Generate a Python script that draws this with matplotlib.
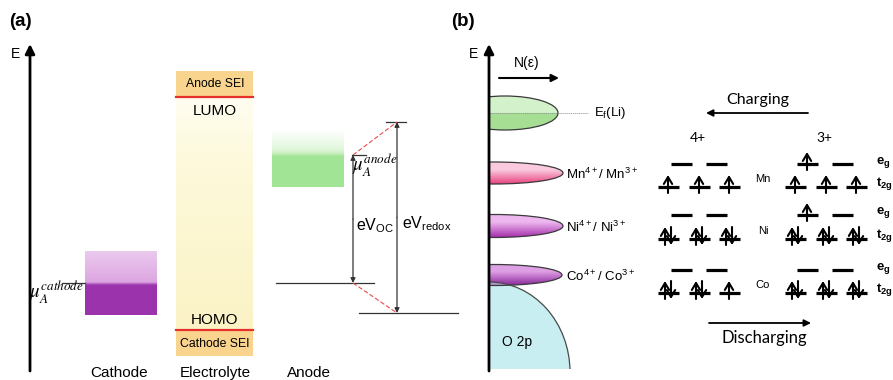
import numpy as np
import matplotlib.pyplot as plt
from matplotlib.patches import Rectangle, Ellipse
from matplotlib.colors import to_rgb

plt.rcParams['font.family'] = ['Liberation Sans', 'DejaVu Sans']
plt.rcParams['mathtext.fontset'] = 'custom'
plt.rcParams['mathtext.rm'] = 'Liberation Sans'
plt.rcParams['mathtext.it'] = 'Liberation Sans:italic'
plt.rcParams['mathtext.bf'] = 'Liberation Sans:bold'

CAL = ['Lato', 'DejaVu Sans']  # stand-in for Calibri

# ---- panel (a): energy levels (pixel rows, smaller value = higher energy)
cathode_levels = [251, 283, 315]      # band top, mu_A(cathode), band bottom
electrolyte_levels = [71, 97, 330, 356]  # SEI top, LUMO, HOMO, SEI bottom
anode_levels = [130, 155, 187]        # band top, mu_A(anode), band bottom
redox_levels = [122, 313]             # upper / lower redox level
column_names = ['Cathode', 'Electrolyte', 'Anode']

# ---- panel (b): density of states
dos_names = [r'E$_\mathrm{f}$(Li)', r'Mn$^{4+}$/ Mn$^{3+}$',
             r'Ni$^{4+}$/ Ni$^{3+}$', r'Co$^{4+}$/ Co$^{3+}$']
dos_centers = [113, 173, 226, 275]
dos_heights = [34, 22, 23, 21]
dos_right = [558, 563, 563, 562]
dos_top_colors = ['#d3f2cb', '#fbcadf', '#eeb6ee', '#dea0e5']
dos_bottom_colors = ['#a6df94', '#e8417d', '#a632ad', '#8c2a9c']

# ---- panel (b): d-electron occupancy (0 empty, 1 up, 2 paired)
ions = ['Mn', 'Ni', 'Co']
eg_4plus = [[0, 0], [0, 0], [0, 0]]
t2g_4plus = [[1, 1, 1], [2, 2, 2], [2, 2, 1]]
eg_3plus = [[1, 0], [1, 0], [0, 0]]
t2g_3plus = [[1, 1, 1], [2, 2, 2], [2, 2, 2]]
eg_rows = [164, 215, 270]
t2g_rows = [187, 239, 293]


def vgrad(ax, x0, x1, y0, y1, stops, clip=None, z=1):
    """vertical colour gradient between rows y0 (top) and y1 (bottom)"""
    t = np.linspace(0, 1, 200)
    fr = [s[0] for s in stops]
    cols = np.array([to_rgb(s[1]) for s in stops])
    img = np.stack([np.interp(t, fr, cols[:, k]) for k in range(3)], axis=1)[:, None, :]
    im = ax.imshow(img, extent=(x0, x1, y1, y0), origin='upper', aspect='auto',
                   interpolation='bilinear', zorder=z)
    if clip is not None:
        im.set_clip_path(clip)
    return im


def arrow(ax, x0, y0, x1, y1, style='-|>', lw=1.5, color='k', ms=12, z=5):
    ax.annotate('', xy=(x1, y1), xytext=(x0, y0),
                arrowprops=dict(arrowstyle=style, lw=lw, color=color, mutation_scale=ms,
                                shrinkA=0, shrinkB=0), zorder=z)


def spin(ax, x, y, up):
    st = '->,head_length=0.5,head_width=0.3'
    if up:
        arrow(ax, x, y + 6, x, y - 12, style=st, lw=1.5, ms=10)
    else:
        arrow(ax, x, y - 12, x, y + 6, style=st, lw=1.5, ms=10)


def orbital(ax, x, y, n):
    ax.plot([x - 10.5, x + 10.5], [y, y], color='k', lw=2.3, solid_capstyle='butt', zorder=4)
    if n == 1:
        spin(ax, x, y, True)
    elif n == 2:
        spin(ax, x - 3, y, True)
        spin(ax, x + 3, y, False)


fig = plt.figure(figsize=(8.93, 3.8), dpi=100)
ax = fig.add_axes([0, 0, 1, 1])
ax.axis('off')

# ================= panel (a)
ax.text(9, 22, '(a)', fontsize=13.5, fontweight='bold', va='center', ha='left')
arrow(ax, 30, 371, 30, 44, lw=2, ms=14)
ax.text(16, 54, 'E', fontsize=10, va='center', ha='center')

c_top, c_mu, c_bot = cathode_levels
vgrad(ax, 85, 157, c_top, c_bot,
      [(0, '#ebcaef'), ((c_mu - c_top - 1) / (c_bot - c_top), '#dca6e0'),
       ((c_mu - c_top + 2) / (c_bot - c_top), '#9a34ad'), (1, '#9a33ac')])
ax.plot([62, 85], [c_mu, c_mu], color='#333333', lw=0.9)
ax.text(84, c_mu + 9, r'$\mu_A^{cathode}$', math_fontfamily='stix', fontsize=13.5,
        ha='right', va='center')

sei_top, lumo, homo, sei_bot = electrolyte_levels
vgrad(ax, 176, 253, lumo, homo, [(0, '#fffdf0'), (0.3, '#fdf9da'), (1, '#fbf3c6')])
ax.add_patch(Rectangle((176, sei_top), 77, lumo - sei_top, color='#f9d48e', lw=0))
ax.add_patch(Rectangle((176, homo), 77, sei_bot - homo, color='#f9d48e', lw=0))
ax.plot([176, 253], [lumo, lumo], color='#e5312a', lw=1.6)
ax.plot([176, 253], [homo, homo], color='#e5312a', lw=1.6)
ax.text(215, (sei_top + lumo) / 2, 'Anode SEI', fontsize=8.8, ha='center', va='center')
ax.text(215, (homo + sei_bot) / 2 + 1, 'Cathode SEI', fontsize=8.8, ha='center', va='center')
ax.text(215, lumo + 14, 'LUMO', fontsize=11, ha='center', va='center')
ax.text(215, homo - 10, 'HOMO', fontsize=11, ha='center', va='center')

a_top, a_mu, a_bot = anode_levels
vgrad(ax, 272, 344, a_top, a_bot,
      [(0, '#ffffff'), (0.35, '#dff6da'), ((a_mu - a_top - 1) / (a_bot - a_top), '#c3eeb9'),
       ((a_mu - a_top + 1) / (a_bot - a_top), '#a3e596'), (1, '#a2e495')])
ax.plot([352, 366], [a_mu, a_mu], color='#333333', lw=0.9)
ax.text(352, a_mu + 10, r'$\mu_A^{anode}$', math_fontfamily='stix', fontsize=13.5,
        ha='left', va='center')

r_top, r_bot = redox_levels
ax.plot([276, 374], [c_mu, c_mu], color='#333333', lw=0.9)
ax.plot([386, 406], [r_top, r_top], color='#333333', lw=0.9)
ax.plot([359, 458], [r_bot, r_bot], color='#333333', lw=0.9)
ax.plot([353, 397], [a_mu, r_top], color='#e84a4a', lw=0.8, dashes=(4, 2))
ax.plot([353, 397], [c_mu, r_bot], color='#e84a4a', lw=0.8, dashes=(4, 2))
arrow(ax, 353, (a_mu + c_mu) / 2, 353, a_mu, style='-|>', lw=0.9, color='#333333', ms=7)
arrow(ax, 353, (a_mu + c_mu) / 2, 353, c_mu, style='-|>', lw=0.9, color='#333333', ms=7)
arrow(ax, 397, (r_top + r_bot) / 2, 397, r_top, style='-|>', lw=0.9, color='#333333', ms=7)
arrow(ax, 397, (r_top + r_bot) / 2, 397, r_bot, style='-|>', lw=0.9, color='#333333', ms=7)
ax.text(356, 226, r'eV$_{\mathrm{OC}}$', fontsize=11.5, ha='left', va='center')
ax.text(402, 224, r'eV$_{\mathrm{redox}}$', fontsize=11.5, ha='left', va='center')

for name, x in zip(column_names, [119, 215, 309]):
    ax.text(x, 373, name, fontsize=11, ha='center', va='center')

# ================= panel (b)
AX_B = 489
ax.text(451, 22, '(b)', fontsize=13.5, fontweight='bold', va='center', ha='left')
ax.text(473, 54, 'E', fontsize=10, va='center', ha='center')
ax.text(527, 63, 'N(ε)', fontsize=10, ha='center', va='center')
arrow(ax, 499, 78, 559, 78, lw=1.5, ms=11)

clip_rect = Rectangle((AX_B, 0), 404, 380, transform=ax.transData)

# O 2p band
o2p = Ellipse((AX_B, 372), 162, 180, facecolor='#c9eef1', edgecolor='none', zorder=1)
ax.add_patch(o2p)
o2p.set_clip_path(Rectangle((AX_B, 0), 404, 369, transform=ax.transData))

for i, (yc, h, xr) in enumerate(zip(dos_centers, dos_heights, dos_right)):
    if i == 0:
        cx = 505
    else:
        cx = 494
    w = 2 * (xr - cx)
    ell = Ellipse((cx, yc), w, h, facecolor='none', edgecolor='#3a3a3a', lw=0.9, zorder=3)
    ax.add_patch(ell)
    ell.set_clip_path(clip_rect)
    if i == 0:
        stops = [(0, dos_top_colors[0]), (0.5, dos_top_colors[0]), (0.5, dos_bottom_colors[0]),
                 (1, dos_bottom_colors[0])]
    else:
        stops = [(0, dos_top_colors[i]), (0.35, dos_top_colors[i]), (1, dos_bottom_colors[i])]
    vgrad(ax, AX_B, xr + 1, yc - h / 2, yc + h / 2, stops, clip=ell, z=2)

# lavender overlap of Co band with O 2p
o2p_over = Ellipse((AX_B, 372), 162, 180, facecolor='#c9eef1', edgecolor='none', alpha=0.55, zorder=2.5)
ax.add_patch(o2p_over)
o2p_over.set_clip_path(Rectangle((AX_B, 0), 404, 369, transform=ax.transData))
o2p_edge = Ellipse((AX_B, 372), 162, 180, facecolor='none', edgecolor='#4a4a4a', lw=0.9, zorder=3)
ax.add_patch(o2p_edge)
o2p_edge.set_clip_path(Rectangle((AX_B, 0), 404, 369, transform=ax.transData))
ax.text(517, 342, 'O 2p', fontsize=10, ha='center', va='center', zorder=4)

ax.plot([AX_B, 588], [dos_centers[0], dos_centers[0]], color='#888888', lw=0.5, ls=(0, (2, 1)), zorder=3)
ax.text(594, dos_centers[0], dos_names[0], fontsize=9.5, ha='left', va='center')
for name, yc in zip(dos_names[1:], dos_centers[1:]):
    ax.text(566, yc + 1, name, fontsize=9.5, ha='left', va='center')

arrow(ax, AX_B, 371, AX_B, 44, lw=2, ms=14, z=6)

# orbital diagrams
ax.text(758, 100, 'Charging', fontsize=11.5, family=CAL, ha='center', va='center')
arrow(ax, 808, 113, 706, 113, lw=1.3, ms=10)
ax.text(698, 138, '4+', fontsize=10, family=CAL, ha='center', va='center')
ax.text(824, 138, '3+', fontsize=10, family=CAL, ha='center', va='center')

x_t2g_4 = [668, 699, 729]
x_eg_4 = [681, 716]
x_t2g_3 = [795, 826, 856]
x_eg_3 = [807, 842]
for k, ion in enumerate(ions):
    for x, n in zip(x_eg_4, eg_4plus[k]):
        orbital(ax, x, eg_rows[k], n)
    for x, n in zip(x_t2g_4, t2g_4plus[k]):
        orbital(ax, x, t2g_rows[k], n)
    for x, n in zip(x_eg_3, eg_3plus[k]):
        orbital(ax, x, eg_rows[k], n)
    for x, n in zip(x_t2g_3, t2g_3plus[k]):
        orbital(ax, x, t2g_rows[k], n)
    ax.text(763, t2g_rows[k] - 8, ion, fontsize=8, ha='center', va='center')
    ax.text(876, eg_rows[k] - 2, r'$\mathbf{e_g}$', fontsize=9.5, ha='left', va='center')
    ax.text(876, t2g_rows[k] - 3, r'$\mathbf{t_{2g}}$', fontsize=9.5, ha='left', va='center')

arrow(ax, 709, 323, 811, 323, lw=1.3, ms=10)
ax.text(764, 338, 'Discharging', fontsize=12, family=CAL, ha='center', va='center')

ax.set_xlim(0, 893)
ax.set_ylim(380, 0)
fig.savefig('out.png', dpi=100)
